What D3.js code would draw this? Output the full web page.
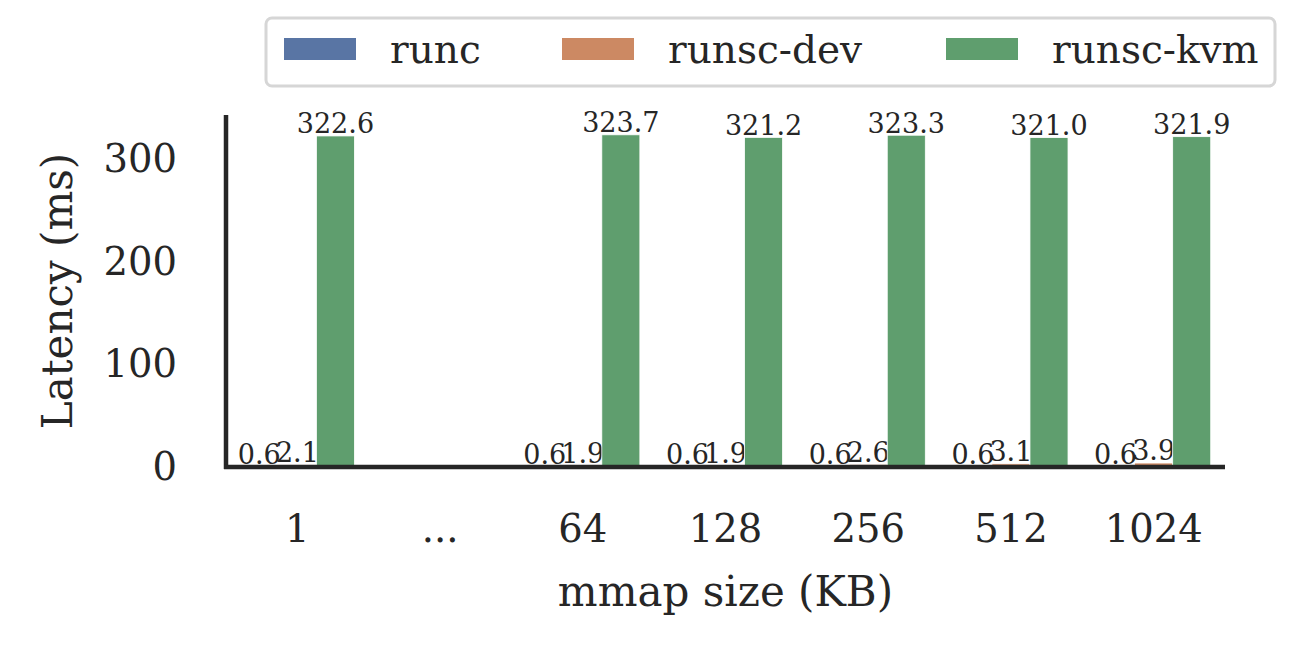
<!DOCTYPE html>
<html>
<head>
<meta charset="utf-8">
<script src="https://d3js.org/d3.v7.min.js"></script>
<style>
body { margin: 0; background: #fff; }
svg { font-family: 'DejaVu Serif', serif; }
</style>
</head>
<body>
<svg id="chart" width="1295" height="655"></svg>
<script>
// data
var sizes = ["1", "...", "64", "128", "256", "512", "1024"];
var seriesNames = ["runc", "runsc-dev", "runsc-kvm"];
var runc = [0.6, null, 0.6, 0.6, 0.6, 0.6, 0.6];
var runscDev = [2.1, null, 1.9, 1.9, 2.6, 3.1, 3.9];
var runscKvm = [322.6, null, 323.7, 321.2, 323.3, 321.0, 321.9];
var yTicks = [0, 100, 200, 300];
var colors = ["#5975a4", "#cc8963", "#5f9e6e"];

var values = [runc, runscDev, runscKvm];

var svg = d3.select("#chart");
// plot box (don't call it "top", window.top is taken)
var mLeft = 226, mRight = 1225, mTop = 115, mBottom = 467;
var ink = "#262626";

var x = d3.scaleBand().domain(sizes).range([mLeft, mRight]);
var inner = d3.scaleBand().domain(seriesNames)
  .range([x.bandwidth() * 0.1, x.bandwidth() * 0.9]);
var y = d3.scaleLinear().domain([0, 343]).range([mBottom, mTop]);

// bars + value labels
seriesNames.forEach(function (name, s) {
  var g = svg.append("g");
  var pts = sizes.map(function (c, i) { return { c: c, v: values[s][i] }; })
    .filter(function (d) { return d.v !== null; });
  g.selectAll("rect").data(pts).enter().append("rect")
    .attr("x", function (d) { return x(d.c) + inner(name); })
    .attr("width", inner.bandwidth())
    .attr("y", function (d) { return y(d.v); })
    .attr("height", function (d) { return y(0) - y(d.v); })
    .attr("fill", colors[s])
    .attr("stroke", "#fff").attr("stroke-width", 0.8);
  g.selectAll("text").data(pts).enter().append("text")
    .attr("x", function (d) { return x(d.c) + inner(name) + inner.bandwidth() / 2; })
    .attr("y", function (d) { return y(d.v) - 2.5; })
    .attr("text-anchor", "middle")
    .attr("font-size", 27)
    .attr("fill", ink)
    .text(function (d) { return d.v.toFixed(1); });
});

// y axis
var yAxis = svg.append("g").attr("transform", "translate(" + mLeft + ",0)")
  .call(d3.axisLeft(y).tickValues(yTicks).tickSize(0).tickPadding(49));
yAxis.select(".domain").remove();
yAxis.selectAll("text").attr("font-size", 38.5).attr("font-family", "DejaVu Serif").attr("fill", ink);

// x axis
var xAxis = svg.append("g").attr("transform", "translate(0," + mBottom + ")")
  .call(d3.axisBottom(x).tickSize(0).tickPadding(48));
xAxis.select(".domain").remove();
xAxis.selectAll("text").attr("font-size", 38.5).attr("font-family", "DejaVu Serif").attr("fill", ink);

// spines
svg.append("line").attr("x1", mLeft).attr("x2", mLeft).attr("y1", mTop).attr("y2", mBottom + 2)
  .attr("stroke", ink).attr("stroke-width", 4.5);
svg.append("line").attr("x1", mLeft - 2).attr("x2", mRight).attr("y1", mBottom).attr("y2", mBottom)
  .attr("stroke", ink).attr("stroke-width", 4.5);

// axis titles
svg.append("text").attr("x", (mLeft + mRight) / 2).attr("y", 606)
  .attr("text-anchor", "middle").attr("font-size", 42).attr("fill", ink)
  .text("mmap size (KB)");
svg.append("text").attr("transform", "translate(72," + (mTop + mBottom) / 2 + ") rotate(-90)")
  .attr("text-anchor", "middle").attr("font-size", 42).attr("fill", ink)
  .text("Latency (ms)");

// legend
svg.append("rect").attr("x", 266).attr("y", 18).attr("width", 1009).attr("height", 68)
  .attr("rx", 6).attr("fill", "#fff").attr("stroke", "#d6d6d6").attr("stroke-width", 3);
var legX = [284, 562, 946];
seriesNames.forEach(function (name, s) {
  svg.append("rect").attr("x", legX[s]).attr("y", 38).attr("width", 72).attr("height", 22)
    .attr("fill", colors[s]);
  svg.append("text").attr("x", legX[s] + 106).attr("y", 63)
    .attr("font-size", 39).attr("fill", ink).text(name);
});
</script>
</body>
</html>
